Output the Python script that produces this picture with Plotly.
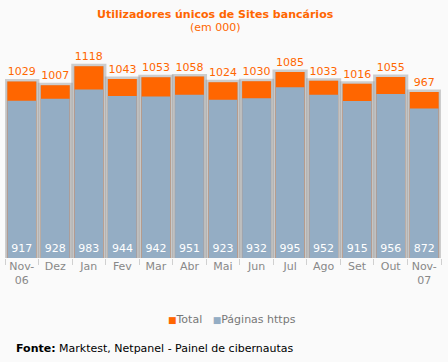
import plotly.graph_objects as go

months = ["Nov-<br>06", "Dez", "Jan", "Fev", "Mar", "Abr", "Mai", "Jun", "Jul", "Ago", "Set", "Out", "Nov-<br>07"]
total = [1029, 1007, 1118, 1043, 1053, 1058, 1024, 1030, 1085, 1033, 1016, 1055, 967]
https = [917, 928, 983, 944, 942, 951, 923, 932, 995, 952, 915, 956, 872]
legend_labels = ["Total", "Páginas https"]

ORANGE = "#FF6600"
BLUE = "#94ADC4"
FONT = "DejaVu Sans"

W, H = 448, 362
ML, MR, MT, MB = 5, 7, 35, 104
plot_w = W - ML - MR
plot_h = H - MT - MB

def px_x(x):
    return (x - ML) / plot_w

def px_y(y_top):
    return (H - y_top - MB) / plot_h

fig = go.Figure()
# soft shadow behind bars
fig.add_trace(go.Bar(x=months, y=total, width=0.9,
                     marker=dict(color="#C4C4C4", line=dict(color="rgba(150,150,150,0.45)", width=5)),
                     hoverinfo="skip", showlegend=False))
fig.add_trace(go.Bar(x=months, y=total, name=legend_labels[0], width=0.86, showlegend=False,
                     marker=dict(color=ORANGE, line=dict(width=0)),
                     text=[str(v) for v in total], textposition="outside",
                     textfont=dict(color=ORANGE, size=11, family=FONT), cliponaxis=False))
fig.add_trace(go.Bar(x=months, y=https, name=legend_labels[1], width=0.86, showlegend=False,
                     marker=dict(color=BLUE, line=dict(width=0)),
                     text=[str(v) for v in https], textposition="inside", insidetextanchor="start",
                     textfont=dict(color="white", size=11, family=FONT), textangle=0))

legend_text = (f'<span style="color:{ORANGE};font-size:9px">■</span>{legend_labels[0]}   '
               f'<span style="color:{BLUE};font-size:9px">■</span>{legend_labels[1]}')

fig.update_layout(
    width=W, height=H,
    barmode="overlay",
    showlegend=False,
    paper_bgcolor="#FAFAFA", plot_bgcolor="#FAFAFA",
    margin=dict(l=ML, r=MR, t=MT, b=MB, autoexpand=False),
    font=dict(family=FONT, size=11, color="#777777"),
    xaxis=dict(type="category", tickson="boundaries", ticks="outside", ticklen=6, tickcolor="#D0D0D0",
               showline=False, showgrid=False, tickangle=0, automargin=False,
               tickfont=dict(color="#888888", size=11, family=FONT)),
    yaxis=dict(range=[0, 1300], visible=False, showgrid=False, automargin=False),
    annotations=[
        dict(text="<b>Utilizadores únicos de Sites bancários</b>", x=px_x(215), y=px_y(15),
             xref="paper", yref="paper", yanchor="middle",
             showarrow=False, font=dict(color=ORANGE, size=11, family=FONT)),
        dict(text="(em 000)", x=px_x(215), y=px_y(28), xref="paper", yref="paper", yanchor="middle",
             showarrow=False, font=dict(color=ORANGE, size=11, family=FONT)),
        dict(text=legend_text, x=px_x(232), y=px_y(319), xref="paper", yref="paper", yanchor="middle",
             showarrow=False, font=dict(color="#777777", size=11, family=FONT)),
        dict(text="<b>Fonte:</b> Marktest, Netpanel - Painel de cibernautas", x=px_x(14), y=px_y(348),
             xref="paper", yref="paper", xanchor="left", yanchor="middle",
             showarrow=False, font=dict(color="#000000", size=11, family=FONT)),
    ],
)

fig.write_html("out.html", config={"displayModeBar": False},
               post_script="document.body.style.margin='0';")
